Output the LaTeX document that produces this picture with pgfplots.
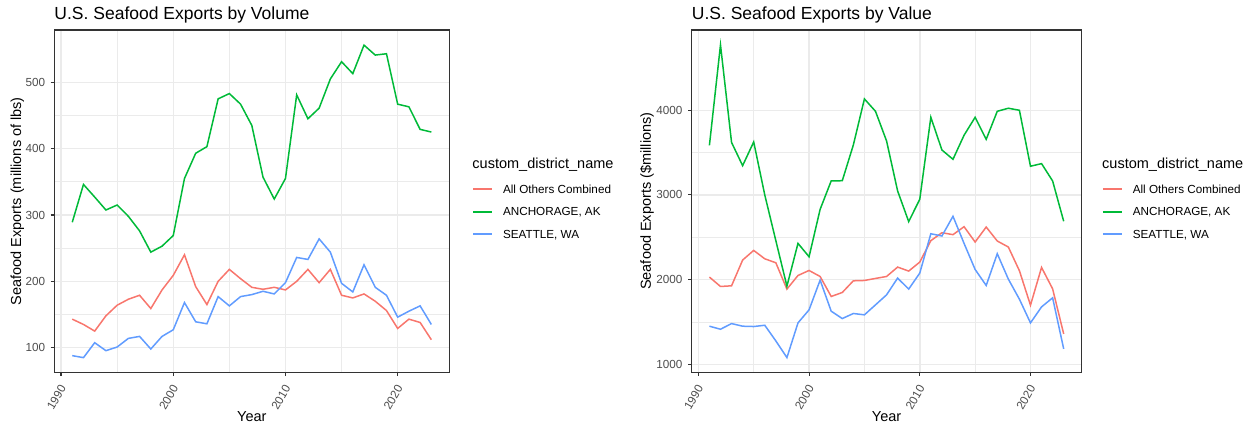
\documentclass[border=0pt]{standalone}
\usepackage{pgfplots}
\pgfplotsset{compat=1.18}
\usepackage{pgfplotstable}
\usepackage{fontspec}
\setmainfont{Liberation Sans}
\definecolor{cRed}{HTML}{F8766D}
\definecolor{cGreen}{HTML}{00BA38}
\definecolor{cBlue}{HTML}{619CFF}
\definecolor{grid92}{HTML}{EBEBEB}
\definecolor{gray20}{HTML}{333333}
\definecolor{gray30}{HTML}{4D4D4D}

\pgfplotstableread{
year others anch seattle
1991 143 289 88
1992 135 346 85
1993 125 327 107.5
1994 148 307.5 95.5
1995 164 315 101
1996 173 298 114
1997 179 276 117
1998 159 244 98
1999 187 253 117
2000 209 269 127
2001 240 355 168
2002 192 393 139
2003 165 403 136
2004 200 475 177
2005 218 483 163
2006 204 467 177
2007 191 435 180
2008 188 357 185
2009 191 324 181
2010 187 355 198
2011 200 481 236
2012 218 445 233
2013 198 461 264
2014 218 505 244
2015 179 531 197
2016 175 513 184
2017 181 556 225
2018 170 541 191
2019 156 543 179
2020 129 467 146
2021 143 463 155
2022 138 429 163
2023 112 425 135
}\volume

\pgfplotstableread{
year others anch seattle
1991 2030 3585 1450
1992 1919 4772 1414
1993 1927 3620 1481
1994 2231 3346 1450
1995 2345 3626 1446
1996 2246 3000 1461
1997 2199 2460 1276
1998 1888 1923 1079
1999 2049 2428 1489
2000 2108 2270 1643
2001 2037 2830 1994
2002 1801 3166 1627
2003 1848 3168 1540
2004 1986 3590 1600
2005 1990 4134 1584
2006 2014 3988 1702
2007 2037 3638 1820
2008 2148 3047 2018
2009 2101 2685 1888
2010 2207 2949 2077
2011 2460 3917 2542
2012 2554 3531 2515
2013 2531 3421 2748
2014 2625 3705 2428
2015 2444 3917 2120
2016 2621 3657 1931
2017 2456 3988 2306
2018 2385 4024 2006
2019 2105 4000 1769
2020 1698 3339 1489
2021 2144 3370 1678
2022 1891 3165 1785
2023 1359 2689 1182
}\valuetab

\pgfplotsset{
  ggbase/.style={
    scale only axis,
    anchor=south west,
    height=342.3bp,
    xmin=1989.4, xmax=2024.6,
    xtick={1990,2000,2010,2020},
    minor x tick num=1, minor y tick num=1,
    grid=both,
    major grid style={color=grid92, line width=1.5bp},
    minor grid style={color=grid92, line width=0.75bp},
    axis line style={draw=gray20, line width=1.1bp},
    tick align=outside,
    tick pos=left,
    major tick length=3.7bp, minor tick length=0pt,
    every tick/.style={color=gray20, line width=1.1bp},
    ticklabel style={font=\fontsize{11.7bp}{14bp}\selectfont, text=gray30},
    /pgf/number format/assume math mode=true,
    /pgf/number format/1000 sep={},
    xticklabel style={xshift=2bp, yshift=-10bp, rotate=60, anchor=east, inner sep=0pt},
    yticklabel style={anchor=east, inner sep=0pt, xshift=-5.3bp},
    every axis title shift=0pt,
    title style={at={(0,1.0298)}, anchor=base west, inner sep=0pt, font=\fontsize{17.5bp}{20bp}\selectfont},
    xlabel style={at={(0.5,-0.129)}, anchor=center, inner sep=0pt, font=\fontsize{14.5bp}{17bp}\selectfont},
    ylabel style={anchor=center, inner sep=0pt, font=\fontsize{14.5bp}{17bp}\selectfont},
    legend cell align=left,
    legend image code/.code={\draw[#1, line width=1.8bp] (0bp,0bp) -- (19bp,0bp);},
    legend style={anchor=north west, draw=none, fill=none, inner sep=0pt, outer sep=0pt,
      row sep=14bp, column sep=10bp, font=\fontsize{11.7bp}{14bp}\selectfont,
      nodes={inner sep=0pt, text height=8.4bp, text depth=0bp}},
    clip=false,
    every axis plot/.append style={line width=1.5bp, no markers},
  }
}

\begin{document}
\begin{tikzpicture}[x=1bp,y=1bp]
\path[use as bounding box] (0,0) rectangle (1253bp,427bp);

\begin{axis}[ggbase,
  at={(54.3bp,54.7bp)}, width=395bp,
  ymin=62.9, ymax=578.8,
  ytick={100,200,300,400,500},
  title={U.S. Seafood Exports by Volume},
  xlabel={Year},
  ylabel={Seafood Exports (millions of lbs)},
  ylabel style={at={(-0.0932,0.5)}},
  legend style={at={(1.0582,0.5469)}},
]
\addplot[cRed] table[x=year, y=others] {\volume};
\addlegendentry{All Others Combined}
\addplot[cGreen] table[x=year, y=anch] {\volume};
\addlegendentry{ANCHORAGE, AK}
\addplot[cBlue] table[x=year, y=seattle] {\volume};
\addlegendentry{SEATTLE, WA}
\draw[gray20, line width=1.1bp] (rel axis cs:0,0) rectangle (rel axis cs:1,1);
\node[anchor=base west, inner sep=0pt, font=\fontsize{14.5bp}{17bp}\selectfont] at (rel axis cs:1.0582,0.5948) {custom\_district\_name};
\end{axis}

\begin{axis}[ggbase,
  at={(691.7bp,54.7bp)}, width=389.7bp,
  ymin=905.5, ymax=4948,
  ytick={1000,2000,3000,4000},
  title={U.S. Seafood Exports by Value},
  xlabel={Year},
  ylabel={Seafood Exports (\$millions)},
  ylabel style={at={(-0.1147,0.5)}},
  legend style={at={(1.0529,0.5469)}},
]
\addplot[cRed] table[x=year, y=others] {\valuetab};
\addlegendentry{All Others Combined}
\addplot[cGreen] table[x=year, y=anch] {\valuetab};
\addlegendentry{ANCHORAGE, AK}
\addplot[cBlue] table[x=year, y=seattle] {\valuetab};
\addlegendentry{SEATTLE, WA}
\draw[gray20, line width=1.1bp] (rel axis cs:0,0) rectangle (rel axis cs:1,1);
\node[anchor=base west, inner sep=0pt, font=\fontsize{14.5bp}{17bp}\selectfont] at (rel axis cs:1.0529,0.5948) {custom\_district\_name};
\end{axis}
\end{tikzpicture}
\end{document}
